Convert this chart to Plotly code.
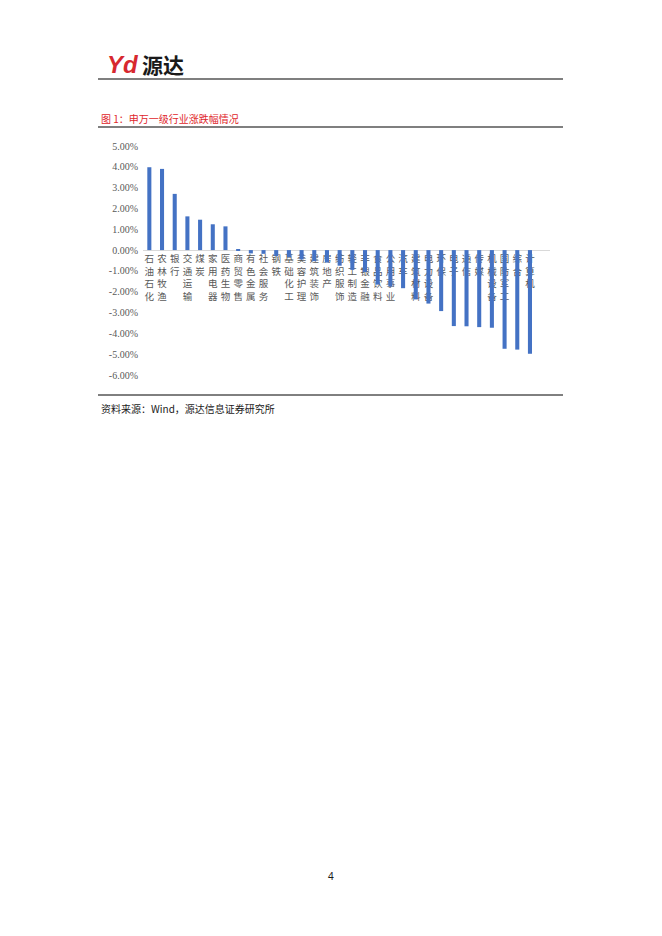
import plotly.graph_objects as go

W, H = 662, 936
# the page body adds a small offset; shift everything back by it
X_OFF, Y_OFF = -8, -9

industries = [
    "石油石化", "农林牧渔", "银行", "交通运输", "煤炭", "家用电器", "医药生物",
    "商贸零售", "有色金属", "社会服务", "钢铁", "基础化工", "美容护理", "建筑装饰",
    "房地产", "纺织服饰", "轻工制造", "非银金融", "食品饮料", "公用事业", "汽车",
    "建筑材料", "电力设备", "环保", "电子", "通信", "传媒", "机械设备", "国防军工",
    "综合", "计算机",
]
change_pct = [
    3.98, 3.90, 2.70, 1.62, 1.46, 1.24, 1.14,
    0.01, -0.16, -0.18, -0.29, -0.34, -0.45, -0.53,
    -0.60, -0.75, -0.95, -1.05, -1.66, -1.75, -1.83,
    -2.37, -2.57, -2.93, -3.65, -3.66, -3.70, -3.73, -4.74,
    -4.78, -4.98,
]
y_ticks = [5, 4, 3, 2, 1, 0, -1, -2, -3, -4, -5, -6]
y_tick_labels = ["5.00%", "4.00%", "3.00%", "2.00%", "1.00%", "0.00%",
                 "-1.00%", "-2.00%", "-3.00%", "-4.00%", "-5.00%", "-6.00%"]


def px(x):
    return (x + X_OFF) / W


def py(y):
    return 1 - (y + Y_OFF) / H


# plot area in page pixels
x0, x1 = 143, 550
y_top, y_bot = 147, 376
y_min, y_max = -6, 5
zero_pos = py(y_bot) + (py(y_top) - py(y_bot)) * (0 - y_min) / (y_max - y_min)

fig = go.Figure(go.Bar(
    x=industries,
    y=change_pct,
    marker=dict(color="#4472C4", line=dict(width=0)),
))

fig.update_layout(
    width=W, height=H,
    margin=dict(l=0, r=0, t=0, b=0),
    paper_bgcolor="white", plot_bgcolor="white",
    bargap=0.68,
    showlegend=False,
    xaxis=dict(
        domain=[px(x0), px(x1)],
        anchor="free", position=zero_pos,
        range=[-0.5, 31.58],
        tickmode="array",
        tickvals=industries,
        ticktext=["<br>".join(s) for s in industries],
        tickangle=0,
        tickfont=dict(family="Noto Sans CJK SC", size=9.5, color="#595959"),
        showline=True, linecolor="#d9d9d9", linewidth=1,
        showgrid=False, ticks="", layer="below traces",
        automargin=False, fixedrange=True,
    ),
    yaxis=dict(
        domain=[py(y_bot), py(y_top)],
        range=[y_min, y_max],
        tickmode="array",
        tickvals=y_ticks,
        ticktext=y_tick_labels,
        tickfont=dict(family="Liberation Serif", size=10, color="#595959"),
        ticklabelstandoff=4,
        showgrid=False, zeroline=False, showline=False, ticks="",
        automargin=False, fixedrange=True,
    ),
)

# page decoration: header rules, caption and source line
for y, w in [(80, 1.2), (128, 1.2), (396, 1)]:
    fig.add_shape(type="line", xref="paper", yref="paper",
                  x0=px(98), x1=px(563), y0=py(y), y1=py(y),
                  line=dict(color="black", width=w))


def note(x, y, text, size, color, family="Noto Sans CJK SC", xanchor="left"):
    fig.add_annotation(x=px(x), y=py(y), xref="paper", yref="paper",
                       text=text, showarrow=False,
                       xanchor=xanchor, yanchor="middle",
                       font=dict(family=family, size=size, color=color))


note(105, 65, "<b><i>Yd</i></b>", 24, "#d7282f", family="Liberation Sans")
note(140, 65, "<b>源达</b>", 21, "#1a1a1a")
note(99, 119, "图 1：申万一级行业涨跌幅情况", 10, "#e0262b")
note(99, 409, "资料来源：Wind，源达信息证券研究所", 10, "#1a1a1a")
note(331, 877, "4", 10, "#1a1a1a", family="Noto Sans", xanchor="center")

fig.write_html("out.html")
